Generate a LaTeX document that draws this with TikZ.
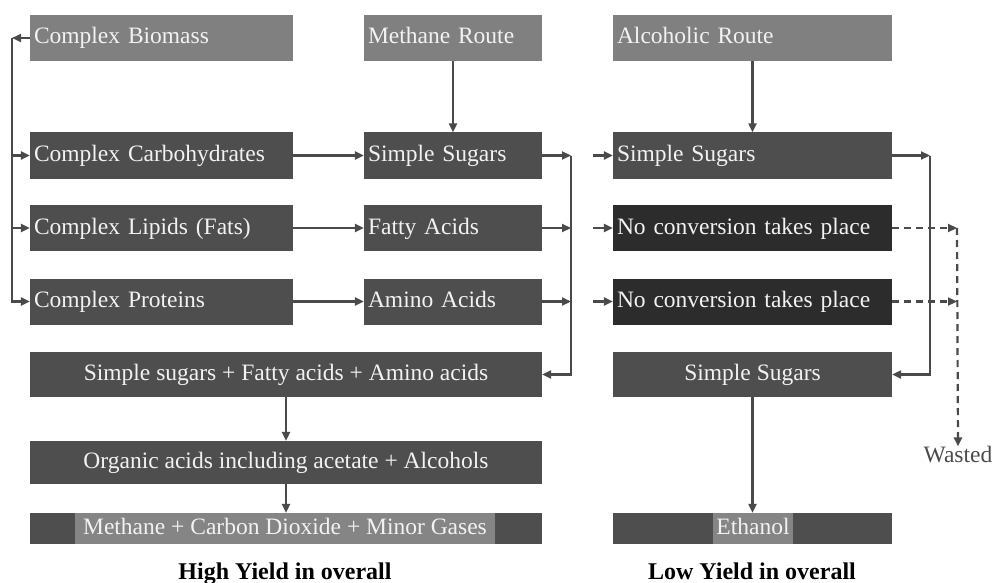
\documentclass[tikz,border=0pt]{standalone}
\usepackage{fontspec}
\setmainfont{Liberation Serif}
\newfontfamily\serfnt{Liberation Serif}
\usetikzlibrary{arrows.meta}
\definecolor{midg}{HTML}{808080}
\definecolor{darkg}{HTML}{4E4E4E}
\definecolor{blackg}{HTML}{2C2C2C}
\definecolor{hlg}{HTML}{858585}
\definecolor{lineg}{HTML}{4A4A4A}
\definecolor{txtw}{HTML}{F2F2F2}
\begin{document}
\begin{tikzpicture}[x=1pt,y=-1pt,
  font=\serfnt\fontsize{23.5}{27}\selectfont,
  bx/.style={draw=none, text=txtw, inner xsep=4pt, inner ysep=0pt, text height=17pt, text depth=5pt, align=left},
  cbx/.style={draw=none, text=txtw, inner xsep=0pt, inner ysep=0pt, text height=17pt, text depth=5pt, align=center},
  arr/.style={draw=lineg, line width=2.2pt, -{Triangle[length=9pt,width=8pt]}},
  ln/.style={draw=lineg, line width=2.2pt},
  dsh/.style={dash pattern=on 7pt off 5pt}
]
\useasboundingbox (0,0) rectangle (998,583);
% top row
\node[bx, fill=midg, text width=255pt, minimum height=46pt] (bio) at (161.5,38) {Complex Biomass};
\node[bx, fill=midg, text width=170pt, minimum height=46pt] (mr) at (453,38) {Methane Route};
\node[bx, fill=midg, text width=271pt, minimum height=46pt] (ar) at (752.5,38) {Alcoholic Route};
% row 2
\node[bx, fill=darkg, text width=255pt, minimum height=46pt] (carb) at (161.5,155.5) {Complex Carbohydrates};
\node[bx, fill=darkg, text width=170pt, minimum height=46pt] (ssm) at (453,155.5) {Simple Sugars};
\node[bx, fill=darkg, text width=271pt, minimum height=46pt] (ssa) at (752.5,155.5) {Simple Sugars};
% row 3
\node[bx, fill=darkg, text width=255pt, minimum height=46pt] (lip) at (161.5,228) {Complex Lipids (Fats)};
\node[bx, fill=darkg, text width=170pt, minimum height=46pt] (fa) at (453,228) {Fatty Acids};
\node[bx, fill=blackg, text width=271pt, minimum height=46pt] (nc1) at (752.5,228) {No conversion takes place};
% row 4
\node[bx, fill=darkg, text width=255pt, minimum height=46pt] (prot) at (161.5,301.5) {Complex Proteins};
\node[bx, fill=darkg, text width=170pt, minimum height=46pt] (aa) at (453,301.5) {Amino Acids};
\node[bx, fill=blackg, text width=271pt, minimum height=46pt] (nc2) at (752.5,301.5) {No conversion takes place};
% row 5
\node[cbx, fill=darkg, minimum width=512pt, minimum height=45pt] (mix) at (286,374.5) {Simple sugars + Fatty acids + Amino acids};
\node[cbx, fill=darkg, minimum width=279pt, minimum height=45pt] (ssl) at (752.5,374.5) {Simple Sugars};
% row 6
\node[cbx, fill=darkg, minimum width=512pt, minimum height=43pt] (org) at (286,462.5) {Organic acids including acetate + Alcohols};
% row 7
\node[cbx, fill=darkg, minimum width=512pt, minimum height=31pt] (gas) at (286,528.5) {};
\node[cbx, fill=hlg, minimum width=420pt, minimum height=31pt, text height=18pt, text depth=6pt] (gastxt) at (285,528.5) {Methane + Carbon Dioxide + Minor Gases};
\node[cbx, fill=darkg, minimum width=279pt, minimum height=31pt] (eth) at (752.5,528.5) {};
\node[cbx, fill=hlg, minimum width=80pt, minimum height=31pt, text height=18pt, text depth=6pt] (ethtxt) at (753,528.5) {Ethanol};
% captions
\node[font=\serfnt\fontsize{24}{28}\selectfont\bfseries, text=black, anchor=base] (hy) at (285,579) {High Yield in overall};
\node[font=\serfnt\fontsize{24}{28}\selectfont\bfseries, text=black, anchor=base] (ly) at (752,579) {Low Yield in overall};
\node[text=lineg, inner sep=0pt] (wasted) at (958,455) {Wasted};
% left bracket
\coordinate (L0) at (12,38);
\draw[arr] (bio.west) -- (L0);
\draw[ln] (L0) -- (12,301.5);
\draw[arr] (L0) |- (carb.west);
\draw[arr] (L0) |- (lip.west);
\draw[arr] (L0) |- (prot.west);
% methane route
\draw[arr] (mr) -- (ssm);
\draw[arr] (carb) -- (ssm);
\draw[arr] (lip) -- (fa);
\draw[arr] (prot) -- (aa);
\coordinate (J1) at (571,155.5);
\coordinate (J2) at (571,228);
\coordinate (J3) at (571,301.5);
\draw[arr] (ssm.east) -- (J1);
\draw[arr] (fa.east) -- (J2);
\draw[arr] (aa.east) -- (J3);
\draw[arr] (J1) |- (mix.east);
\draw[arr] (mix) -- (org);
\draw[arr] (org) -- (gas);
% alcoholic route
\coordinate (S1) at (593,155.5);
\coordinate (S2) at (593,228);
\coordinate (S3) at (593,301.5);
\draw[arr] (S1) -- (ssa.west);
\draw[arr] (S2) -- (nc1.west);
\draw[arr] (S3) -- (nc2.west);
\draw[arr] (ar) -- (ssa);
\coordinate (K1) at (930,155.5);
\draw[arr] (ssa.east) -- (K1);
\draw[arr] (K1) |- (ssl.east);
\draw[arr] (ssl) -- (eth);
\coordinate (W1) at (957,228);
\coordinate (W2) at (957,301.5);
\draw[arr, dsh] (nc1.east) -- (W1);
\draw[arr, dsh] (nc2.east) -- (W2);
\draw[arr, dsh] (W1) -- (wasted.north);
\end{tikzpicture}
\end{document}
